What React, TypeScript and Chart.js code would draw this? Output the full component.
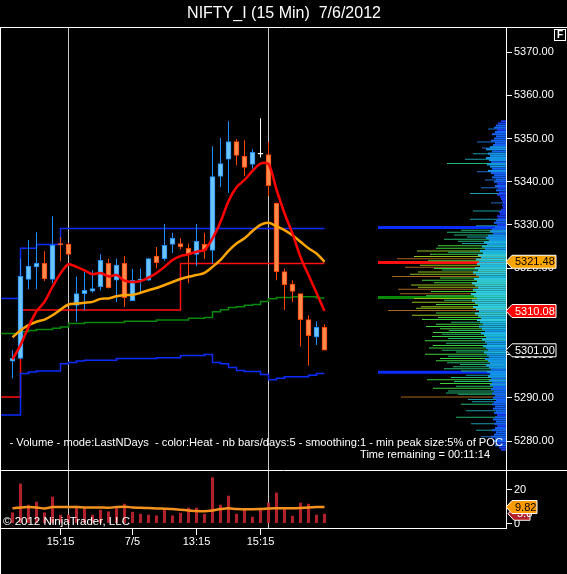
import React, { useEffect, useRef } from 'react';
import { Chart, registerables } from 'chart.js';

Chart.register(...registerables);

// ---------------- data ----------------
const TITLE = 'NIFTY_I (15 Min)  7/6/2012';
const INDICATOR_TEXT = '- Volume - mode:LastNDays  - color:Heat - nb bars/days:5 - smoothing:1 - min peak size:5% of POC';
const TIME_REMAINING = 'Time remaining = 00:11:14';
const COPYRIGHT = '\u00A9 2012 NinjaTrader, LLC';

const opens = [
  5298.5, 5299.1, 5317.4, 5320.3, 5321.1, 5317.4, 5325.7, 5325.6, 5311.4, 5314.1,
  5314.7, 5315.7, 5321.1, 5317.2, 5321.1, 5312.5, 5317.2, 5317.2, 5322.8, 5322.2,
  5325.5, 5325.7, 5324.6, 5323.2, 5325.5, 5324.1, 5341.2, 5345.2, 5349.3, 5345.9,
  5344.0, 5346.4, 5346.3, 5335.0, 5319.2, 5316.3, 5314.1, 5308.1, 5304.1, 5306.3,
];
const highs = [
  5301.0, 5322.2, 5326.5, 5328.3, 5323.9, 5332.0, 5327.2, 5325.8, 5318.1, 5319.1,
  5319.5, 5323.2, 5322.2, 5322.2, 5322.8, 5319.8, 5319.9, 5322.3, 5324.9, 5330.2,
  5328.2, 5326.9, 5325.7, 5330.2, 5328.2, 5348.2, 5350.1, 5354.0, 5349.8, 5349.6,
  5347.5, 5354.7, 5349.2, 5335.2, 5319.9, 5317.2, 5314.1, 5309.1, 5307.7, 5307.0,
];
const lows = [
  5294.5, 5299.0, 5315.1, 5315.1, 5317.0, 5316.5, 5321.6, 5323.0, 5307.6, 5310.3,
  5314.3, 5314.9, 5315.3, 5312.2, 5311.0, 5312.4, 5314.1, 5317.1, 5319.9, 5321.7,
  5323.5, 5324.3, 5316.5, 5320.5, 5322.1, 5321.1, 5338.8, 5337.4, 5343.8, 5341.3,
  5343.0, 5345.6, 5336.7, 5317.2, 5310.3, 5312.2, 5301.9, 5297.4, 5302.2, 5301.0,
];
const closes = [
  5299.2, 5318.1, 5320.5, 5321.1, 5317.5, 5325.3, 5325.4, 5323.2, 5314.1, 5314.9,
  5315.3, 5321.8, 5315.5, 5320.7, 5313.2, 5317.2, 5317.5, 5322.2, 5321.3, 5325.3,
  5326.9, 5324.9, 5323.2, 5326.2, 5324.1, 5341.2, 5344.2, 5349.3, 5346.1, 5343.3,
  5346.8, 5346.4, 5339.1, 5319.2, 5316.2, 5314.6, 5308.1, 5304.4, 5306.3, 5301.0,
];
const smaFast = [
  5298.9, 5302.2, 5306.4, 5310.0, 5312.2, 5315.7, 5318.8, 5320.9, 5320.3, 5319.5,
  5318.6, 5318.9, 5318.1, 5318.4, 5317.1, 5316.8, 5317.0, 5317.8, 5318.9, 5320.3,
  5321.9, 5322.8, 5323.2, 5323.8, 5324.2, 5326.9, 5330.7, 5335.5, 5338.7, 5340.4,
  5342.5, 5344.2, 5344.1, 5338.2, 5332.7, 5328.0, 5322.6, 5318.4, 5314.3, 5310.08,
];
const smaSlow = [
  5304.0, 5305.6, 5306.8, 5307.6, 5308.1, 5309.1, 5310.4, 5311.6, 5311.8, 5312.0,
  5312.2, 5312.9, 5313.0, 5313.5, 5313.8, 5313.8, 5314.3, 5314.9, 5315.4, 5316.1,
  5316.8, 5317.5, 5318.0, 5318.4, 5318.9, 5320.3, 5321.9, 5324.0, 5325.7, 5326.9,
  5328.6, 5330.0, 5330.5, 5329.7, 5328.8, 5327.6, 5326.1, 5324.6, 5323.4, 5321.48,
];
const upperBand = [
  5313.0, 5324.6, 5324.6, 5325.5, 5325.5, 5325.5, 5329.2, 5329.2, 5329.2, 5329.2,
  5329.2, 5329.2, 5329.2, 5329.2, 5329.2, 5329.2, 5329.2, 5329.2, 5329.2, 5329.2,
  5329.2, 5329.2, 5329.2, 5329.2, 5329.2, 5329.2, 5329.2, 5329.2, 5329.2, 5329.2,
  5329.2, 5329.2, 5329.2, 5329.2, 5329.2, 5329.2, 5329.2, 5329.2, 5329.2, 5329.2,
];
const lowerBand = [
  5286.0, 5295.6, 5296.0, 5296.2, 5296.2, 5296.2, 5297.9, 5298.2, 5298.5, 5298.7,
  5298.7, 5298.7, 5298.7, 5299.1, 5299.1, 5299.1, 5299.1, 5299.1, 5299.3, 5299.3,
  5299.3, 5299.8, 5299.8, 5299.8, 5300.0, 5298.2, 5297.9, 5297.0, 5296.3, 5296.1,
  5296.1, 5295.4, 5294.2, 5294.5, 5294.9, 5294.9, 5294.9, 5295.2, 5295.6, 5295.6,
];
const greenLevel = [
  5304.9, 5305.3, 5305.6, 5305.8, 5305.8, 5306.1, 5306.4, 5307.2, 5307.2, 5307.4,
  5307.4, 5307.4, 5307.4, 5307.4, 5307.7, 5307.7, 5307.7, 5307.7, 5308.0, 5308.0,
  5308.0, 5308.0, 5308.4, 5308.4, 5308.6, 5309.9, 5310.4, 5310.9, 5311.1, 5311.4,
  5311.6, 5312.3, 5312.9, 5313.2, 5313.2, 5313.4, 5313.4, 5313.4, 5313.1, 5313.1,
];
const redLevel = [
  5290.2, 5310.3, 5310.3, 5310.3, 5310.3, 5310.3, 5310.3, 5310.3, 5310.3, 5310.3,
  5310.3, 5310.3, 5310.3, 5310.3, 5310.3, 5310.3, 5310.3, 5310.3, 5310.3, 5310.3,
  5310.3, 5321.1, 5321.1, 5321.1, 5321.1, 5321.1, 5321.1, 5321.1, 5321.1, 5321.1,
  5321.1, 5321.1, 5321.1, 5321.1, 5321.1, 5321.1, 5321.1, 5321.1, 5321.1, 5321.1,
];
const volumes = [
  6.6, 23.8, 11.2, 13.0, 6.6, 16.0, 5.2, 5.2, 10.6, 9.2,
  5.2, 8.2, 7.2, 10.0, 11.8, 7.0, 5.8, 5.2, 4.8, 8.2,
  4.8, 6.4, 9.4, 9.4, 5.8, 27.6, 11.2, 16.6, 5.8, 8.6,
  4.0, 9.4, 12.4, 18.4, 9.4, 4.6, 12.4, 11.8, 5.2, 5.8,
];
const volumeSma = [
  9.1, 9.6, 9.8, 9.6, 9.0, 9.8, 9.8, 9.8, 9.8, 9.6,
  9.6, 9.6, 9.4, 9.8, 10.0, 9.6, 9.4, 9.2, 9.0, 8.8,
  8.6, 8.2, 7.8, 7.4, 7.3, 7.8, 8.6, 9.1, 8.6, 8.5,
  8.5, 8.6, 8.9, 9.1, 9.1, 9.1, 9.3, 9.6, 9.8, 9.82,
];
const priceTicks = [5280, 5290, 5300, 5310, 5320, 5330, 5340, 5350, 5360, 5370];
const volumeTicks = [0, 20];
const sessionBreaks = [7, 32];
const timeTickPositions = [6, 15, 23, 31];
const timeTickLabels = ['15:15', '7/5', '13:15', '15:15'];

// volume profile (price level -> volume)
const profileLevels = [
  5354, 5353.5, 5353, 5352.5, 5352, 5351.5, 5351, 5350.5, 5350, 5349.5,
  5349, 5348.5, 5348, 5347.5, 5347, 5346.5, 5346, 5345.5, 5345, 5344.5,
  5344, 5343.5, 5343, 5342.5, 5342, 5341.5, 5341, 5340.5, 5340, 5339.5,
  5339, 5338.5, 5338, 5337.5, 5337, 5336.5, 5336, 5335.5, 5335, 5334.5,
  5334, 5333.5, 5333, 5332.5, 5332, 5331.5, 5331, 5330.5, 5330, 5329.5,
  5329, 5328.5, 5328, 5327.5, 5327, 5326.5, 5326, 5325.5, 5325, 5324.5,
  5324, 5323.5, 5323, 5322.5, 5322, 5321.5, 5321, 5320.5, 5320, 5319.5,
  5319, 5318.5, 5318, 5317.5, 5317, 5316.5, 5316, 5315.5, 5315, 5314.5,
  5314, 5313.5, 5313, 5312.5, 5312, 5311.5, 5311, 5310.5, 5310, 5309.5,
  5309, 5308.5, 5308, 5307.5, 5307, 5306.5, 5306, 5305.5, 5305, 5304.5,
  5304, 5303.5, 5303, 5302.5, 5302, 5301.5, 5301, 5300.5, 5300, 5299.5,
  5299, 5298.5, 5298, 5297.5, 5297, 5296.5, 5296, 5295.5, 5295, 5294.5,
  5294, 5293.5, 5293, 5292.5, 5292, 5291.5, 5291, 5290.5, 5290, 5289.5,
  5289, 5288.5, 5288, 5287.5, 5287, 5286.5, 5286, 5285.5, 5285, 5284.5,
  5284, 5283.5, 5283, 5282.5, 5282, 5281.5, 5281, 5280.5, 5280, 5279.5,
  5279, 5278.5, 5278,
];
const profileVolumes = [
  5, 8, 10, 12, 9, 11, 14, 10, 12, 15,
  11, 13, 16, 20, 14, 18, 16, 20, 17, 15,
  19, 16, 14, 18, 15, 12, 14, 10, 12, 9,
  11, 8, 10, 7, 9, 6, 5, 4, 3, 4,
  3, 5, 7, 6, 9, 8, 10, 12, 9, 11,
  14, 16, 13, 18, 20, 17, 22, 19, 24, 21,
  26, 23, 28, 25, 30, 27, 29, 26, 31, 28,
  33, 30, 27, 32, 29, 34, 31, 28, 33, 30,
  35, 32, 29, 34, 31, 28, 33, 30, 27, 31,
  28, 25, 29, 26, 23, 27, 24, 21, 25, 22,
  20, 24, 21, 19, 23, 20, 18, 22, 19, 17,
  21, 18, 16, 20, 17, 15, 19, 16, 18, 15,
  17, 14, 16, 13, 15, 12, 14, 11, 13, 10,
  12, 14, 11, 13, 10, 12, 9, 11, 13, 10,
  12, 9, 11, 14, 10, 12, 15, 11, 13, 9,
  11, 7, 5,
];
const streakLevels = [
  5352.2, 5349.2, 5347.8, 5346.5, 5345.2, 5344.2, 5342.3, 5340.4, 5338.6, 5337.3,
  5335.1, 5333.2, 5331.3, 5329.8, 5328.8, 5328.3, 5327.7, 5327.2, 5326.7, 5326.2,
  5325.7, 5325.2, 5324.6, 5324.0, 5323.7, 5323.2, 5322.7, 5322.2, 5321.7, 5320.7,
  5320.2, 5319.9, 5319.6, 5319.1, 5318.6, 5318.1, 5317.7, 5317.2, 5316.6, 5316.1,
  5315.6, 5315.1, 5314.6, 5314.1, 5313.6, 5313.0, 5312.6, 5312.1, 5311.6, 5311.1,
  5310.7, 5310.2, 5309.6, 5309.1, 5308.6, 5308.1, 5307.5, 5307.0, 5306.5, 5306.0,
  5305.6, 5305.1, 5304.7, 5304.2, 5303.7, 5303.2, 5302.6, 5302.1, 5301.5, 5301.0,
  5300.6, 5300.1, 5299.6, 5299.1, 5298.6, 5298.1, 5297.7, 5297.2, 5296.7, 5296.2,
  5295.2, 5294.7, 5294.2, 5293.8, 5293.3, 5292.7, 5292.2, 5291.6, 5291.1, 5290.8,
  5290.2, 5289.6, 5289.1, 5288.5, 5287.0, 5285.5, 5284.0, 5282.5, 5281.0,
];
const streakVolumes = [
  18, 29, 24, 33, 41, 59, 29, 21, 25, 36,
  15, 33, 36, 30, 45, 59, 52, 39, 62, 48,
  44, 68, 70, 89, 58, 76, 92, 109, 78, 86,
  101, 72, 64, 88, 96, 114, 66, 84, 72, 95,
  88, 108, 75, 106, 80, 92, 62, 94, 70, 85,
  90, 118, 70, 94, 68, 84, 55, 70, 80, 66,
  57, 73, 64, 74, 58, 81, 60, 73, 77, 64,
  50, 81, 58, 66, 70, 59, 46, 53, 62, 45,
  40, 55, 79, 52, 66, 50, 73, 58, 60, 48,
  105, 38, 34, 45, 40, 50, 35, 30, 25,
];
const keyLevels = [5329.4, 5321.3, 5313.2, 5295.9];
const keyLevelVolumes = [128, 128, 128, 128];

// ---------------- styling ----------------
const FONT = "'Liberation Sans', Arial, sans-serif";
const X_MIN = -1.4375;
const X_MAX = 61.6875;
const PRICE_MIN = 5273.3;
const PRICE_MAX = 5375.8;
const VOL_MIN = -2.69;
const VOL_MAX = 31.94;
const PROFILE_MAX = 505;
const AXIS_W = 61;
const UP_LINE = '#1e90ff';
const UP_FILL = '#6cc4fa';
const DOWN_LINE = '#ff4500';
const DOWN_FILL = '#ff8a4c';
const KEY_COLORS = ['#0a2cff', '#ff1010', '#0a8a0a', '#0a2cff'];

function coreColor(v: number) {
  if (v < 10) return '#1a3cf0';
  if (v < 16) return '#1464f5';
  if (v < 22) return '#1496ec';
  if (v < 28) return '#1cb6e4';
  return '#30cade';
}
function streakColor(v: number) {
  if (v < 30) return '#1e6ecd';
  if (v < 45) return '#1a9aa8';
  if (v < 65) return '#23b46e';
  if (v < 85) return '#3ccf3c';
  if (v < 100) return '#92bf1e';
  return '#a8661e';
}

function drawTag(ctx: CanvasRenderingContext2D, tipX: number, right: number, y: number, text: string, fill: string, textColor: string, border: string) {
  const h = 13;
  ctx.beginPath();
  ctx.moveTo(tipX, y);
  ctx.lineTo(tipX + 6, y - h / 2);
  ctx.lineTo(right, y - h / 2);
  ctx.lineTo(right, y + h / 2);
  ctx.lineTo(tipX + 6, y + h / 2);
  ctx.closePath();
  ctx.fillStyle = fill;
  ctx.fill();
  ctx.strokeStyle = border;
  ctx.lineWidth = 1;
  ctx.stroke();
  ctx.fillStyle = textColor;
  ctx.font = `11px ${FONT}`;
  ctx.textAlign = 'left';
  ctx.textBaseline = 'middle';
  ctx.fillText(text, tipX + 9, y + 0.5);
}

const stepData = (arr: number[]) => [{ x: X_MIN, y: arr[0] }, ...arr.map((v, i) => ({ x: i, y: v }))];

export default function App() {
  const priceRef = useRef<HTMLCanvasElement>(null);
  const volRef = useRef<HTMLCanvasElement>(null);

  useEffect(() => {
    Chart.defaults.font.family = FONT;
    Chart.defaults.color = '#ffffff';
    const idx = opens.map((_, i) => i);
    const dir = opens.map((o, i) => (closes[i] > o ? 1 : closes[i] < o ? -1 : 0));
    const lineCol = dir.map((d) => (d > 0 ? UP_LINE : d < 0 ? DOWN_LINE : '#ffffff'));
    const fillCol = dir.map((d) => (d > 0 ? UP_FILL : d < 0 ? DOWN_FILL : '#ffffff'));

    const priceOverlay = {
      id: 'priceOverlay',
      afterDraw(chart: any) {
        const ctx = chart.ctx as CanvasRenderingContext2D;
        const ys = chart.scales.y;
        ctx.save();
        ctx.strokeStyle = '#ffffff';
        ctx.lineWidth = 1;
        ctx.beginPath();
        ctx.moveTo(0, 27.5);
        ctx.lineTo(567, 27.5);
        ctx.moveTo(0.5, 27);
        ctx.lineTo(0.5, 470);
        ctx.stroke();
        // F box
        ctx.strokeRect(554.5, 29.5, 11, 11);
        ctx.fillStyle = '#ffffff';
        ctx.font = `bold 10px ${FONT}`;
        ctx.textAlign = 'center';
        ctx.textBaseline = 'middle';
        ctx.fillText('F', 560, 35.5);
        // indicator texts
        ctx.font = `11.15px ${FONT}`;
        ctx.textAlign = 'right';
        ctx.fillText(INDICATOR_TEXT, 503, 443);
        ctx.font = `11px ${FONT}`;
        ctx.fillText(TIME_REMAINING, 490, 455);
        // tags
        const last = closes.length - 1;
        drawTag(ctx, 506, 556, ys.getPixelForValue(closes[last]), closes[last].toFixed(2), '#000000', '#ffffff', '#ffffff');
        drawTag(ctx, 506, 556, ys.getPixelForValue(smaFast[last]), smaFast[last].toFixed(2), '#ff0000', '#ffffff', '#ffffff');
        drawTag(ctx, 506, 556, ys.getPixelForValue(smaSlow[last]), smaSlow[last].toFixed(2), '#ffa500', '#000000', '#ffffff');
        ctx.restore();
      },
    };

    const volOverlay = {
      id: 'volOverlay',
      afterDraw(chart: any) {
        const ctx = chart.ctx as CanvasRenderingContext2D;
        const ys = chart.scales.yv;
        ctx.save();
        ctx.strokeStyle = '#ffffff';
        ctx.lineWidth = 1;
        ctx.beginPath();
        ctx.moveTo(0, 0.5);
        ctx.lineTo(567, 0.5);
        ctx.moveTo(0.5, 0);
        ctx.lineTo(0.5, 104);
        ctx.stroke();
        ctx.fillStyle = '#ffffff';
        ctx.font = `11.5px ${FONT}`;
        ctx.textAlign = 'left';
        ctx.textBaseline = 'middle';
        ctx.fillText(COPYRIGHT, 3, 51.5);
        const last = volumes.length - 1;
        drawTag(ctx, 508, 530, ys.getPixelForValue(volumes[last]), volumes[last].toFixed(1), '#b3202a', '#ffffff', '#ffffff');
        drawTag(ctx, 506, 537, ys.getPixelForValue(volumeSma[last]), volumeSma[last].toFixed(2), '#ff9a00', '#000000', '#ffffff');
        ctx.restore();
      },
    };

    const priceChart = new Chart(priceRef.current!, {
      type: 'bar',
      data: {
        datasets: [
          { type: 'line', label: 'SMA fast', data: smaFast.map((v, i) => ({ x: i, y: v })), borderColor: '#ff0000', borderWidth: 2.5, pointRadius: 0, tension: 0.3, order: 1 } as any,
          { type: 'line', label: 'SMA slow', data: smaSlow.map((v, i) => ({ x: i, y: v })), borderColor: '#ffa500', borderWidth: 2.5, pointRadius: 0, tension: 0.3, order: 2 } as any,
          { type: 'bar', label: 'bodies', data: idx.map((i) => ({ x: i, y: [opens[i], closes[i]] })), backgroundColor: fillCol, borderColor: lineCol, borderWidth: 1, borderSkipped: false, barThickness: 5, grouped: false, minBarLength: 1, order: 3 } as any,
          { type: 'bar', label: 'wicks', data: idx.map((i) => ({ x: i, y: [lows[i], highs[i]] })), backgroundColor: lineCol, barThickness: 1, grouped: false, inflateAmount: 0, order: 4 } as any,
          { type: 'line', label: 'upper', data: stepData(upperBand), borderColor: '#0a2cff', borderWidth: 1.5, pointRadius: 0, stepped: 'before', order: 5 } as any,
          { type: 'line', label: 'lower', data: stepData(lowerBand), borderColor: '#0a2cff', borderWidth: 1.5, pointRadius: 0, stepped: 'before', order: 6 } as any,
          { type: 'line', label: 'green', data: stepData(greenLevel), borderColor: '#0a8a0a', borderWidth: 1.5, pointRadius: 0, stepped: 'before', order: 7 } as any,
          { type: 'line', label: 'red', data: stepData(redLevel), borderColor: '#ff1010', borderWidth: 1.5, pointRadius: 0, stepped: 'before', order: 8 } as any,
          { type: 'bar', label: 'profile', indexAxis: 'y', xAxisID: 'xp', yAxisID: 'y', data: profileLevels.map((p, i) => ({ y: p, x: profileVolumes[i] })), backgroundColor: profileVolumes.map(coreColor), barThickness: 2, grouped: false, inflateAmount: 0, order: 9 } as any,
          { type: 'bar', label: 'streaks', indexAxis: 'y', xAxisID: 'xp', yAxisID: 'y', data: streakLevels.map((p, i) => ({ y: p, x: streakVolumes[i] })), backgroundColor: streakVolumes.map(streakColor), barThickness: 1, grouped: false, inflateAmount: 0, order: 10 } as any,
          { type: 'bar', label: 'key', indexAxis: 'y', xAxisID: 'xp', yAxisID: 'y', data: keyLevels.map((p, i) => ({ y: p, x: keyLevelVolumes[i] })), backgroundColor: KEY_COLORS, barThickness: 3, grouped: false, inflateAmount: 0, order: 11 } as any,
        ],
      },
      options: {
        responsive: false,
        animation: false,
        devicePixelRatio: 1,
        layout: { padding: { left: 1, right: 0, top: 0, bottom: 0 } },
        plugins: {
          legend: { display: false },
          tooltip: { enabled: false },
          title: { display: true, text: TITLE, color: '#ffffff', font: { family: FONT, size: 16, weight: 'normal', lineHeight: 1.1875 }, padding: { top: 4, bottom: 4 } },
        },
        scales: {
          x: {
            type: 'linear', min: X_MIN, max: X_MAX, position: 'bottom', offset: false,
            afterBuildTicks: (s: any) => { s.ticks = sessionBreaks.map((v) => ({ value: v })); },
            afterFit: (s: any) => { s.height = 0; s.paddingLeft = 0; s.paddingRight = 0; },
            ticks: { display: false },
            grid: { display: true, drawOnChartArea: true, drawTicks: false, color: '#c8c8c8', offset: false },
            border: { display: false },
          },
          xp: { type: 'linear', axis: 'x', display: false, min: 0, max: PROFILE_MAX, reverse: true, offset: false },
          y: {
            type: 'linear', position: 'right', min: PRICE_MIN, max: PRICE_MAX, offset: false, beginAtZero: false,
            afterBuildTicks: (s: any) => { s.ticks = priceTicks.map((v) => ({ value: v })); },
            afterFit: (s: any) => { s.width = AXIS_W; s.paddingTop = 0; s.paddingBottom = 0; },
            ticks: { color: '#ffffff', font: { family: FONT, size: 11 }, padding: 2, callback: (v: any) => Number(v).toFixed(2) },
            grid: { drawOnChartArea: false, drawTicks: true, tickLength: 6, tickColor: '#ffffff', color: '#ffffff', offset: false },
            border: { display: true, color: '#ffffff', width: 1 },
          },
        },
      } as any,
      plugins: [priceOverlay],
    });

    const volChart = new Chart(volRef.current!, {
      type: 'bar',
      data: {
        datasets: [
          { type: 'line', label: 'Volume SMA', data: volumeSma.map((v, i) => ({ x: i, y: v })), borderColor: '#f5921e', borderWidth: 2.5, pointRadius: 0, tension: 0.3, xAxisID: 'x', yAxisID: 'yv', order: 1 } as any,
          { type: 'bar', label: 'Volume', data: volumes.map((v, i) => ({ x: i, y: v })), backgroundColor: '#b3202a', barThickness: 3, grouped: false, inflateAmount: 0, xAxisID: 'x', yAxisID: 'yv', order: 2 } as any,
        ],
      },
      options: {
        responsive: false,
        animation: false,
        devicePixelRatio: 1,
        layout: { padding: { left: 1, right: 0, top: 0, bottom: 0 } },
        plugins: { legend: { display: false }, tooltip: { enabled: false }, title: { display: false } },
        scales: {
          x: {
            type: 'linear', min: X_MIN, max: X_MAX, position: 'bottom', offset: false,
            afterBuildTicks: (s: any) => {
              s.ticks = [...timeTickPositions, ...sessionBreaks].sort((a, b) => a - b).map((v) => ({ value: v }));
            },
            afterFit: (s: any) => { s.height = 46; s.paddingLeft = 0; s.paddingRight = 0; },
            ticks: {
              color: '#ffffff', font: { family: FONT, size: 11 }, padding: 0, autoSkip: false, maxRotation: 0,
              callback: (v: any) => { const k = timeTickPositions.indexOf(Number(v)); return k >= 0 ? timeTickLabels[k] : ''; },
            },
            grid: {
              drawOnChartArea: true, drawTicks: true, tickLength: 7, offset: false,
              color: (c: any) => (sessionBreaks.includes(c.tick?.value) ? '#c8c8c8' : 'rgba(0,0,0,0)'),
              tickColor: (c: any) => (sessionBreaks.includes(c.tick?.value) ? 'rgba(0,0,0,0)' : '#ffffff'),
            },
            border: { display: true, color: '#ffffff', width: 1 },
          },
          yv: {
            type: 'linear', axis: 'y', position: 'right', min: VOL_MIN, max: VOL_MAX, offset: false,
            afterBuildTicks: (s: any) => { s.ticks = volumeTicks.map((v) => ({ value: v })); },
            afterFit: (s: any) => { s.width = AXIS_W; s.paddingTop = 0; s.paddingBottom = 0; },
            ticks: { color: '#ffffff', font: { family: FONT, size: 11 }, padding: 2 },
            grid: { drawOnChartArea: false, drawTicks: true, tickLength: 6, tickColor: '#ffffff', color: '#ffffff' },
            border: { display: true, color: '#ffffff', width: 1 },
          },
        },
      } as any,
      plugins: [volOverlay],
    });

    return () => {
      priceChart.destroy();
      volChart.destroy();
    };
  }, []);

  return (
    <div style={{ position: 'fixed', left: 0, top: 0, width: 567, height: 574, background: '#000', overflow: 'hidden' }}>
      <canvas ref={priceRef} width={567} height={470} style={{ position: 'absolute', left: 0, top: 0, width: 567, height: 470 }} />
      <canvas ref={volRef} width={567} height={104} style={{ position: 'absolute', left: 0, top: 470, width: 567, height: 104 }} />
    </div>
  );
}
